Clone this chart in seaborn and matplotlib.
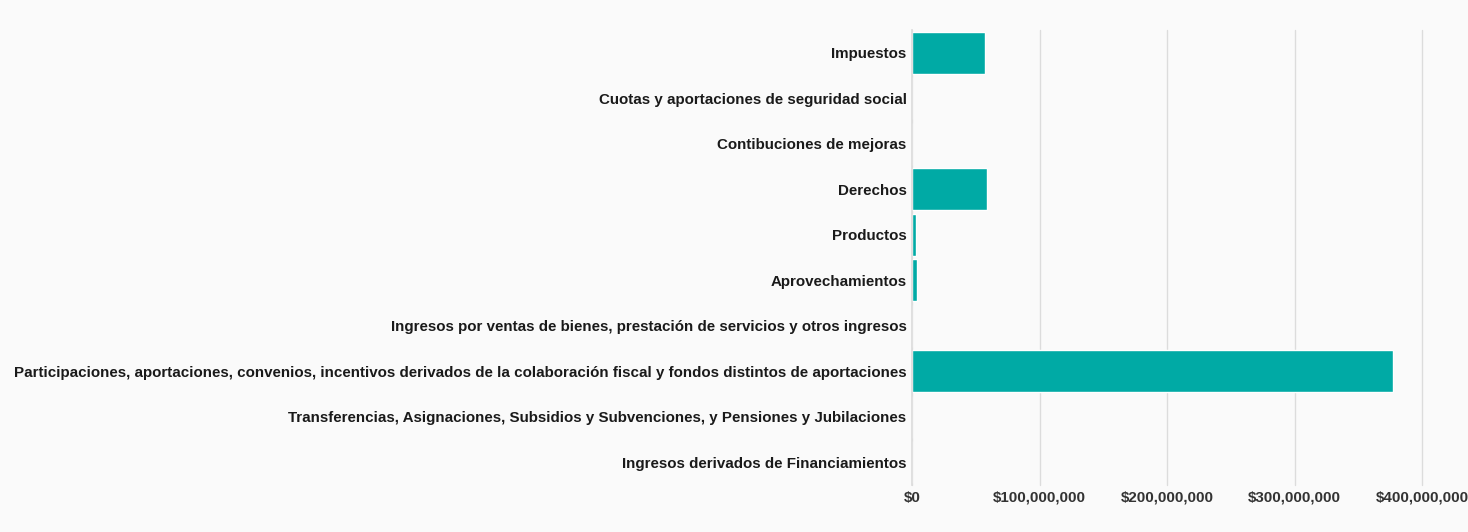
import matplotlib
matplotlib.use("Agg")
import matplotlib.pyplot as plt
import seaborn as sns
import pandas as pd
from matplotlib.ticker import FuncFormatter

categories = [
    "Impuestos",
    "Cuotas y aportaciones de seguridad social",
    "Contibuciones de mejoras",
    "Derechos",
    "Productos",
    "Aprovechamientos",
    "Ingresos por ventas de bienes, prestación de servicios y otros ingresos",
    "Participaciones, aportaciones, convenios, incentivos derivados de la colaboración fiscal y fondos distintos de aportaciones",
    "Transferencias, Asignaciones, Subsidios y Subvenciones, y Pensiones y Jubilaciones",
    "Ingresos derivados de Financiamientos",
]
values = [57_000_000, 0, 0, 59_000_000, 3_000_000, 3_500_000, 0, 377_000_000, 0, 0]
x_ticks = [0, 100_000_000, 200_000_000, 300_000_000, 400_000_000]

df = pd.DataFrame({"categoria": categories, "monto": values})

sns.set_theme(style="white")
plt.rcParams["font.family"] = ["Liberation Sans", "DejaVu Sans"]

bg = "#fafafa"
fig = plt.figure(figsize=(14.68, 5.32), dpi=100, facecolor=bg)
ax = fig.add_axes([0.6213, 0.0883, 0.3474, 0.8553])
ax.set_facecolor(bg)

sns.barplot(data=df, y="categoria", x="monto", orient="h", color="#00aaa5",
            saturation=1, width=0.92, ax=ax)

ax.set_xlim(0, 400_000_000)
ax.set_xticks(x_ticks)
ax.xaxis.set_major_formatter(FuncFormatter(lambda v, p: f"${v:,.0f}"))
ax.grid(axis="x", color="#dcdcdc", linewidth=1)
for gl in ax.get_xgridlines():
    gl.set_clip_on(False)
ax.set_axisbelow(True)
for s in ["top", "right", "bottom"]:
    ax.spines[s].set_visible(False)
ax.spines["left"].set_color("#dcdcdc")
ax.set_xlabel("")
ax.set_ylabel("")
ax.tick_params(axis="y", length=0, pad=4, labelsize=10.9, labelcolor="#1a1a1a")
ax.tick_params(axis="x", length=0, pad=4, labelsize=10.9, labelcolor="#333333")
for lab in ax.get_yticklabels() + ax.get_xticklabels():
    lab.set_fontweight("bold")

fig.savefig("out.png", dpi=100, facecolor=bg)
